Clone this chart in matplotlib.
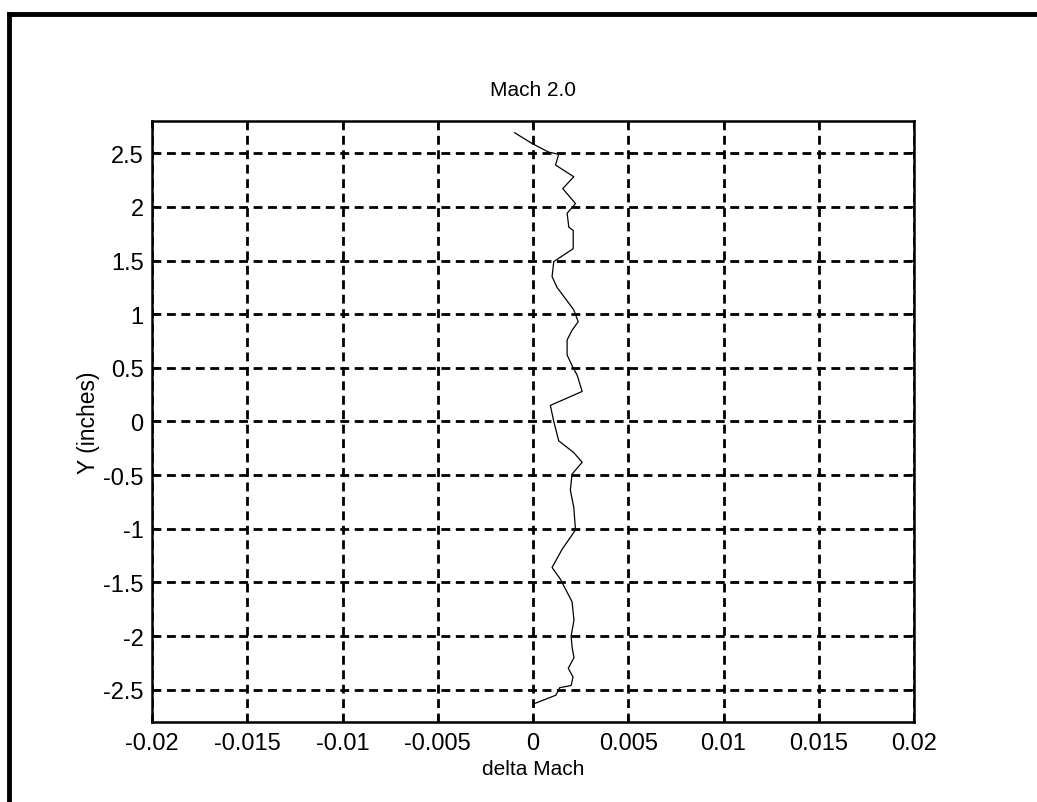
import matplotlib
matplotlib.use("Agg")
import matplotlib.pyplot as plt
from matplotlib.lines import Line2D

# traced profile (top to bottom)
y_in = [2.69, 2.59, 2.51, 2.49, 2.39, 2.28, 2.17, 2.03, 1.94, 1.81, 1.78, 1.61,
        1.49, 1.35, 1.25, 1.04, 0.93, 0.85, 0.76, 0.62, 0.52, 0.43, 0.28, 0.15,
        0.00, -0.18, -0.29, -0.38, -0.49, -0.64, -0.80, -1.01, -1.19, -1.36,
        -1.47, -1.68, -1.85, -2.00, -2.10, -2.20, -2.30, -2.38, -2.46, -2.48,
        -2.55, -2.63]
dmach = [-0.00096, -0.00005, 0.00082, 0.00135, 0.00118, 0.00214, 0.00156,
         0.00223, 0.00179, 0.00188, 0.00211, 0.00211, 0.00109, 0.00100,
         0.00126, 0.00214, 0.00237, 0.00205, 0.00179, 0.00179, 0.00205,
         0.00232, 0.00258, 0.00091, 0.00109, 0.00135, 0.00214, 0.00258,
         0.00205, 0.00196, 0.00214, 0.00223, 0.00153, 0.00100, 0.00144,
         0.00205, 0.00215, 0.00200, 0.00205, 0.00215, 0.00185, 0.00210,
         0.00200, 0.00140, 0.00120, 0.00005]

xticks = [-0.02, -0.015, -0.01, -0.005, 0, 0.005, 0.01, 0.015, 0.02]
xtick_labels = ["-0.02", "-0.015", "-0.01", "-0.005", "0", "0.005", "0.01", "0.015", "0.02"]
yticks = [2.5, 2, 1.5, 1, 0.5, 0, -0.5, -1, -1.5, -2, -2.5]
ytick_labels = ["2.5", "2", "1.5", "1", "0.5", "0", "-0.5", "-1", "-1.5", "-2", "-2.5"]

plt.rcParams["font.family"] = ["Liberation Sans", "DejaVu Sans"]
fs = 15
tfs = 17

fig = plt.figure(figsize=(10.37, 8.03), dpi=100)
ax = fig.add_axes([0.1466, 0.0996, 0.7348, 0.7485])

ax.plot(dmach, y_in, color="black", linewidth=0.9)

ax.set_xlim(-0.02, 0.02)
ax.set_ylim(-2.8, 2.8)
ax.set_xticks(xticks)
ax.set_xticklabels(xtick_labels, fontsize=tfs)
ax.set_yticks(yticks)
ax.set_yticklabels(ytick_labels, fontsize=tfs)
ax.tick_params(direction="in", top=True, right=True, length=5, width=1.2)
ax.tick_params(axis="x", pad=7)
ax.tick_params(axis="y", pad=6)

ax.grid(True, color="black", linestyle=(0, (3.2, 2.0)), linewidth=2.0)
for s in ax.spines.values():
    s.set_linewidth(1.8)

ax.set_title("Mach 2.0", fontsize=fs, pad=19)
ax.set_xlabel("delta Mach", fontsize=fs, labelpad=4)
ax.set_ylabel("Y (inches)", fontsize=16.5, labelpad=2)

# scanned page border (top and left)
fig.add_artist(Line2D([0.009, 1.0], [0.9813, 0.9813], color="black", linewidth=3.5,
                      transform=fig.transFigure))
fig.add_artist(Line2D([0.009, 0.009], [0.0, 0.9813], color="black", linewidth=3.5,
                      transform=fig.transFigure))

fig.savefig("out.png", dpi=100)
